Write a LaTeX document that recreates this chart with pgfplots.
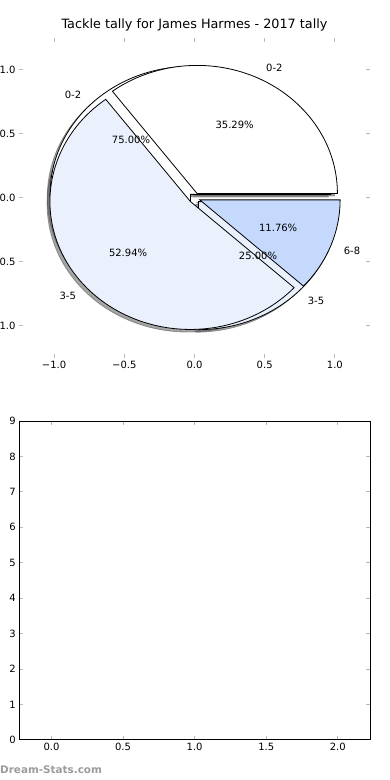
\documentclass[border=0pt]{standalone}
\usepackage{pgfplots}
\pgfplotsset{compat=1.18}
\usepackage{fontspec}
\setmainfont{DejaVu Sans}
\definecolor{pieA}{RGB}{255,255,255}
\definecolor{pieB}{RGB}{234,241,253}
\definecolor{pieC}{RGB}{197,217,253}
\definecolor{tickgray}{RGB}{185,185,185}
\definecolor{wmgray}{RGB}{155,155,155}
% wedge: center x, center y, start angle, end angle
\newcommand{\wedgepath}[4]{(axis cs:#1,#2) -- ++(#3:140.4bp and 128bp) arc[start angle=#3, end angle=#4, x radius=140.4bp, y radius=128bp] -- cycle}
\newcommand{\lbl}{\fontsize{10bp}{12bp}\selectfont}
\begin{document}
\begin{tikzpicture}
\path[use as bounding box] (0,0) rectangle (390bp,780bp);
% ---------------- top: pie chart ----------------
% Pie 1: 0-2 = 6 (35.29%), 3-5 = 9 (52.94%), 6-8 = 2 (11.76%)
% Pie 2: 0-2 = 3 (75.00%), 3-5 = 1 (25.00%)
\begin{axis}[
  at={(19bp,422bp)}, anchor=south west,
  scale only axis, width=351bp, height=320bp,
  xmin=-1.25, xmax=1.25, ymin=-1.25, ymax=1.25,
  clip=false,
  axis line style={draw=none},
  xtick={-1,-0.5,0,0.5,1}, ytick={-1,-0.5,0,0.5,1},
  xticklabels={−1.0,−0.5,0.0,0.5,1.0},
  yticklabels={−1.0,−0.5,0.0,0.5,1.0},
  tick pos=both, tick align=inside,
  major tick length=4bp,
  every tick/.style={tickgray, line width=1bp},
  ticklabel style={font=\lbl, text=black},
  title={Tackle tally for James Harmes - 2017 tally},
  title style={at={(0.5,1)}, anchor=base, yshift=4bp, font=\fontsize{12.8bp}{15bp}\selectfont},
]
% shadows
\begin{scope}[fill=black!70, draw=black!70, opacity=0.5, line width=0.8bp]
\filldraw \wedgepath{-0.0483}{0.0083}{0}{270};
\filldraw \wedgepath{0.0083}{-0.0483}{270}{360};
\filldraw \wedgepath{-0.0022}{0.0158}{0}{127.06};
\filldraw \wedgepath{-0.0496}{-0.0470}{127.06}{317.65};
\filldraw \wedgepath{0.0173}{-0.0345}{317.65}{360};
\end{scope}
% pie 2
\filldraw[fill=pieA, draw=black, line width=0.8bp] \wedgepath{-0.0283}{0.0283}{0}{270};
\filldraw[fill=pieB, draw=black, line width=0.8bp] \wedgepath{0.0283}{-0.0283}{270}{360};
% pie 1
\filldraw[fill=pieA, draw=black, line width=0.8bp] \wedgepath{0.0178}{0.0358}{0}{127.06};
\filldraw[fill=pieB, draw=black, line width=0.8bp] \wedgepath{-0.0296}{-0.0270}{127.06}{317.65};
\filldraw[fill=pieC, draw=black, line width=0.8bp] \wedgepath{0.0373}{-0.0145}{317.65}{360};
% labels
\begin{scope}[every node/.style={font=\lbl, inner sep=0pt}]
\node[anchor=west] at (axis cs:0.509,1.020) {0-2};
\node[anchor=east] at (axis cs:-0.843,-0.768) {3-5};
\node[anchor=west] at (axis cs:1.062,-0.411) {6-8};
\node[anchor=east] at (axis cs:-0.806,0.806) {0-2};
\node[anchor=west] at (axis cs:0.806,-0.806) {3-5};
\node at (axis cs:0.286,0.573) {35.29\%};
\node at (axis cs:-0.473,-0.431) {52.94\%};
\node at (axis cs:0.596,-0.231) {11.76\%};
\node at (axis cs:-0.452,0.452) {75.00\%};
\node at (axis cs:0.452,-0.452) {25.00\%};
\end{scope}
\end{axis}
% ---------------- bottom: empty axes ----------------
\begin{axis}[
  at={(19.3bp,40bp)}, anchor=south west,
  scale only axis, width=350.7bp, height=319bp,
  xmin=-0.225, xmax=2.225, ymin=0, ymax=9,
  axis line style={black, line width=1bp},
  xtick={0,0.5,1,1.5,2}, xticklabels={0.0,0.5,1.0,1.5,2.0},
  ytick={0,1,2,3,4,5,6,7,8,9},
  yticklabels={0,1,2,3,4,5,6,7,8,9},
  tick pos=both, tick align=inside,
  major tick length=4bp,
  every tick/.style={tickgray, line width=1bp},
  ticklabel style={font=\lbl, text=black},
]
\end{axis}
\node[anchor=west, inner sep=0pt, text=wmgray, font=\fontsize{10.4bp}{12bp}\selectfont\bfseries] at (0bp,10bp) {Dream-Stats.com};
\end{tikzpicture}
\end{document}
